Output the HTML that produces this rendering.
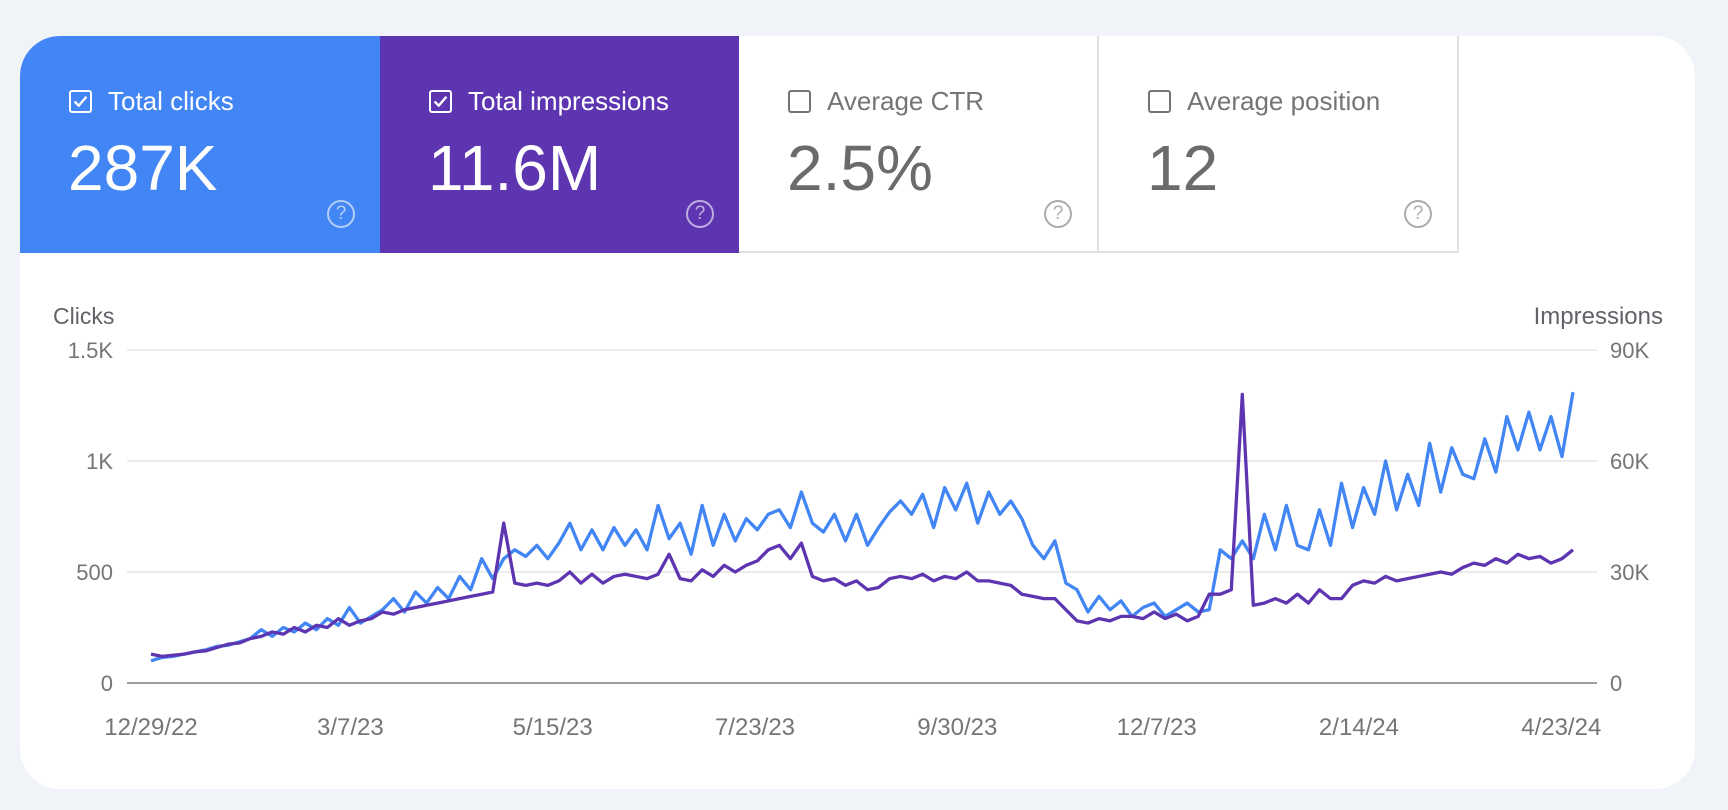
<!DOCTYPE html>
<html><head><meta charset="utf-8">
<style>
body{margin:0;width:1728px;height:810px;background:#f0f3f8;font-family:"Liberation Sans",Arial,sans-serif;overflow:hidden;position:relative}
.card{position:absolute;left:20px;top:36px;width:1675px;height:753px;background:#fff;border-radius:40px;overflow:hidden}
.tile{position:absolute;top:0;height:217px;width:360px;box-sizing:border-box}
.tile .lab{position:absolute;left:49px;top:50px;font-size:26px;display:flex;align-items:center}
.cb{width:23px;height:23px;border:2px solid currentColor;border-radius:3px;margin-right:16px;box-sizing:border-box;position:relative}
.tile .num{position:absolute;left:48px;top:95px;font-size:64px}
.help{position:absolute;right:25px;top:164px;width:28px;height:28px;border:2.5px solid currentColor;border-radius:50%;box-sizing:border-box;font-size:19px;text-align:center;line-height:23px;opacity:.6}
.t1{left:0;background:#4285f4;color:#fff}
.t2{left:360px;width:359px;background:#5e35b1;color:#fff}
.t3{left:719px;background:#fff;color:#757575;border-right:2px solid #e0e0e0;border-bottom:2px solid #e0e0e0}
.t4{left:1079px;background:#fff;color:#757575;border-right:2px solid #e0e0e0;border-bottom:2px solid #e0e0e0}
.t3 .num,.t4 .num{color:#6b6b6b}
</style></head><body>
<div class="card">
 <div class="tile t1"><div class="lab"><div class="cb"><svg width="19" height="19" viewBox="0 0 16 16" style="position:absolute;left:0;top:0"><path d="M3 8l3.5 3.5L13 4" stroke="#fff" stroke-width="2" fill="none"/></svg></div><span>Total clicks</span></div><div class="num">287K</div><div class="help">?</div></div>
 <div class="tile t2"><div class="lab"><div class="cb"><svg width="19" height="19" viewBox="0 0 16 16" style="position:absolute;left:0;top:0"><path d="M3 8l3.5 3.5L13 4" stroke="#fff" stroke-width="2" fill="none"/></svg></div><span>Total impressions</span></div><div class="num">11.6M</div><div class="help">?</div></div>
 <div class="tile t3"><div class="lab"><div class="cb"></div><span>Average CTR</span></div><div class="num">2.5%</div><div class="help">?</div></div>
 <div class="tile t4"><div class="lab"><div class="cb"></div><span>Average position</span></div><div class="num">12</div><div class="help">?</div></div>
</div>
<svg id="chart" width="1728" height="810" style="position:absolute;left:0;top:0"></svg>
<script>
const clicks=[100,115,120,130,140,150,165,170,185,200,240,210,250,230,270,240,290,260,340,270,300,330,380,320,410,360,430,380,480,420,560,470,560,600,570,620,560,630,720,600,690,600,700,620,690,600,800,650,720,580,800,620,760,640,740,690,760,780,700,860,720,680,760,640,760,620,700,770,820,760,850,700,880,780,900,720,860,760,820,740,620,560,640,450,420,320,390,330,370,300,340,360,300,330,360,320,330,600,560,640,560,760,600,800,620,600,780,620,900,700,880,760,1000,780,940,800,1080,860,1060,940,920,1100,950,1200,1050,1220,1050,1200,1020,1310];
const impressionsK=[7.8,7.2,7.5,7.8,8.4,8.7,9.6,10.5,10.8,12,12.6,13.8,13.2,15,13.8,15.6,15,17.4,15.6,16.8,17.4,19.2,18.6,19.8,20.4,21,21.6,22.2,22.8,23.4,24,24.6,43.2,27,26.4,27,26.4,27.6,30,27,29.4,27,28.8,29.4,28.8,28.2,29.4,34.8,28.2,27.6,30.6,28.8,31.8,30,31.8,33,36,37.2,33.6,37.8,28.8,27.6,28.2,26.4,27.6,25.2,25.8,28.2,28.8,28.2,29.4,27.6,28.8,28.2,30,27.6,27.6,27,26.4,24,23.4,22.8,22.8,19.8,16.8,16.2,17.4,16.8,18,18,17.4,19.2,17.4,18.6,16.8,18,24,24,25.2,78,21,21.6,22.8,21.6,24,21.6,25.2,22.8,22.8,26.4,27.6,27,28.8,27.6,28.2,28.8,29.4,30,29.4,31.2,32.4,31.8,33.6,32.4,34.8,33.6,34.2,32.4,33.6,36];
const leftTicks=[0,500,1000,1500];
const leftTickLabels=["0","500","1K","1.5K"];
const rightTickLabels=["0","30K","60K","90K"];
const dateLabels=["12/29/22","3/7/23","5/15/23","7/23/23","9/30/23","12/7/23","2/14/24","4/23/24"];
const dateLabelDays=[0,68,137,206,275,343,412,481];
const totalDays=485;

const svg=document.getElementById('chart');
const NS='http://www.w3.org/2000/svg';
const X0=151,X1=1573,PL=127,PR=1597,Y0=683,Y1=350;
const yL=v=>Y0-(v/1500)*(Y0-Y1);
const yR=v=>Y0-(v/90)*(Y0-Y1);
const xIdx=(i,n)=>X0+(X1-X0)*i/(n-1);
const xDay=d=>X0+(X1-X0)*d/totalDays;
function mk(t,a){const e=document.createElementNS(NS,t);for(const k in a)e.setAttribute(k,a[k]);svg.appendChild(e);return e;}
leftTicks.forEach((v,i)=>{
 const y=yL(v);
 const g=mk('line',{x1:PL,x2:PR,y1:y,y2:y,stroke:i==0?'#9e9e9e':'#e6e6e6','stroke-width':i==0?2:1.5});
 
 
 const t=mk('text',{x:113,y:y+8,'text-anchor':'end','font-size':22,fill:'#757575'});t.textContent=leftTickLabels[i];
 
 
 const r=mk('text',{x:1610,y:y+8,'text-anchor':'start','font-size':22,fill:'#757575'});r.textContent=rightTickLabels[i];
 
 
});
dateLabels.forEach((l,i)=>{
 const t=mk('text',{x:xDay(dateLabelDays[i]),y:735,'text-anchor':'middle','font-size':24,fill:'#757575'});t.textContent=l;
 
 
});
const ct=mk('text',{x:53,y:324,'font-size':23,fill:'#5f6368'});ct.textContent='Clicks';


const it=mk('text',{x:1663,y:324,'text-anchor':'end','font-size':24,fill:'#5f6368'});it.textContent='Impressions';


const pI=mk('polyline',{points:impressionsK.map((v,i)=>xIdx(i,impressionsK.length)+','+yR(v)).join(' '),fill:'none',stroke:'#5e35b1','stroke-width':3.3,'stroke-linejoin':'round'});


const pC=mk('polyline',{points:clicks.map((v,i)=>xIdx(i,clicks.length)+','+yL(v)).join(' '),fill:'none',stroke:'#4285f4','stroke-width':3.3,'stroke-linejoin':'round'});


svg.appendChild(pI);
</script>
</body></html>
